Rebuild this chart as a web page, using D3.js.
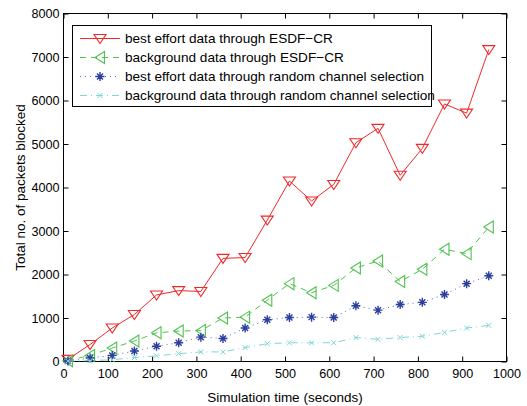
<!DOCTYPE html>
<html><head><meta charset="utf-8">
<script src="https://cdn.jsdelivr.net/npm/d3@7"></script>
<style>body{margin:0;background:#fff;} svg{display:block;font-family:"Liberation Sans",Arial,sans-serif;}</style>
</head><body><svg id="c" width="527" height="406"></svg>
<script>
const times = [10,60,110,160,210,260,310,360,410,460,510,560,610,660,710,760,810,860,910,960];
const bestEffortESDF = [50,390,770,1080,1530,1630,1610,2370,2390,3250,4150,3690,4070,5030,5360,4280,4900,5920,5710,7170];
const backgroundESDF = [20,140,310,470,660,700,710,1000,1020,1410,1790,1580,1750,2150,2310,1840,2120,2580,2480,3090];
const bestEffortRandom = [10,80,140,240,350,430,560,530,770,960,1010,1020,1010,1280,1180,1310,1360,1540,1790,1970];
const backgroundRandom = [10,20,40,90,130,180,220,220,320,410,430,430,430,550,510,550,580,670,770,830];
const seriesNames = ["best effort data through ESDF\u2212CR","background data through ESDF\u2212CR","best effort data through random channel selection","background data through random channel selection"];
const xTicks = [0,100,200,300,400,500,600,700,800,900,1000];
const yTicks = [0,1000,2000,3000,4000,5000,6000,7000,8000];
const xLabel = "Simulation time (seconds)";
const yLabel = "Total no. of packets blocked";

const svg = d3.select("#c");
const L=63.5, R=506.5, T=13.5, B=361.5;
const x = d3.scaleLinear().domain([0,1000]).range([L,R]);
const y = d3.scaleLinear().domain([0,8000]).range([B,T]);

const styles = [
  {data:bestEffortESDF, color:"#ee2a2a", dash:null, marker:"tri", mcolor:"#ee2a2a"},
  {data:backgroundESDF, color:"#4fc24f", dash:"6,5", marker:"ltri", mcolor:"#4fc24f"},
  {data:bestEffortRandom, color:"#5a6ad0", dash:"1,4", marker:"star", mcolor:"#2c3f9e"},
  {data:backgroundRandom, color:"#7fd6d6", dash:"7,4,1,4", marker:"x", mcolor:"#7fd6d6"}
];

function drawMarker(g, type, cx, cy, color){
  if(type==="tri"){
    g.append("path").attr("d",`M${cx-6},${cy-4}L${cx+6},${cy-4}L${cx},${cy+5}Z`)
      .attr("fill","none").attr("stroke",color).attr("stroke-width",1.1);
  } else if(type==="ltri"){
    g.append("path").attr("d",`M${cx-5},${cy}L${cx+4.5},${cy-6}L${cx+4.5},${cy+6}Z`)
      .attr("fill","none").attr("stroke",color).attr("stroke-width",1.1);
  } else if(type==="star"){
    g.append("path").attr("d",`M${cx-4.5},${cy}L${cx+4.5},${cy}M${cx},${cy-4.5}L${cx},${cy+4.5}M${cx-3},${cy-3}L${cx+3},${cy+3}M${cx-3},${cy+3}L${cx+3},${cy-3}`)
      .attr("stroke",color).attr("stroke-width",1.4);
  } else if(type==="x"){
    g.append("path").attr("d",`M${cx-2.5},${cy-2.5}L${cx+2.5},${cy+2.5}M${cx-2.5},${cy+2.5}L${cx+2.5},${cy-2.5}`)
      .attr("stroke",color).attr("stroke-width",1);
  }
}

// frame
svg.append("rect").attr("x",L).attr("y",T).attr("width",R-L).attr("height",B-T)
  .attr("fill","#fff").attr("stroke","#000").attr("stroke-width",1);

// axes
const xb = svg.append("g").attr("transform",`translate(0,${B})`)
  .call(d3.axisBottom(x).tickValues(xTicks).tickSize(-5).tickPadding(8).tickFormat(d3.format("d")));
const xt = svg.append("g").attr("transform",`translate(0,${T})`)
  .call(d3.axisTop(x).tickValues(xTicks).tickSize(-5).tickFormat(""));
const yl = svg.append("g").attr("transform",`translate(${L},0)`)
  .call(d3.axisLeft(y).tickValues(yTicks).tickSize(-5).tickPadding(4).tickFormat(d3.format("d")));
const yr = svg.append("g").attr("transform",`translate(${R},0)`)
  .call(d3.axisRight(y).tickValues(yTicks).tickSize(-5).tickFormat(""));
[xb,xt,yl,yr].forEach(a=>{
  a.select(".domain").remove();
  a.selectAll("line").attr("stroke","#000");
  a.selectAll("text").attr("font-size",12.6).attr("fill","#000").attr("font-family","Liberation Sans, Arial, sans-serif");
});

// series
const line = d3.line().x((d,i)=>x(times[i])).y(d=>y(d));
styles.forEach(s=>{
  svg.append("path").datum(s.data).attr("d",line).attr("fill","none")
    .attr("stroke",s.color).attr("stroke-width",1).attr("stroke-dasharray",s.dash);
  const g = svg.append("g");
  s.data.forEach((v,i)=>drawMarker(g,s.marker,x(times[i]),y(v),s.mcolor));
});

// legend
const lg = svg.append("g");
lg.append("rect").attr("x",72.5).attr("y",25.5).attr("width",359).attr("height",81)
  .attr("fill","#fff").attr("stroke","#000").attr("stroke-width",1);
const rowsY = [38.5,57.5,76.5,95.5];
styles.forEach((s,i)=>{
  lg.append("line").attr("x1",80).attr("x2",120).attr("y1",rowsY[i]).attr("y2",rowsY[i])
    .attr("stroke",s.color).attr("stroke-width",1).attr("stroke-dasharray",s.dash);
  drawMarker(lg,s.marker,100,rowsY[i],s.mcolor);
  lg.append("text").attr("x",125).attr("y",rowsY[i]).attr("dy","0.36em")
    .attr("font-size",13.6).attr("fill","#000").text(seriesNames[i]);
});

// axis labels
svg.append("text").attr("x",(L+R)/2).attr("y",402).attr("text-anchor","middle")
  .attr("font-size",13.5).attr("fill","#000").text(xLabel);
svg.append("text").attr("transform",`translate(25,${(T+B)/2}) rotate(-90)`).attr("text-anchor","middle")
  .attr("font-size",13.5).attr("fill","#000").text(yLabel);
</script></body></html>
